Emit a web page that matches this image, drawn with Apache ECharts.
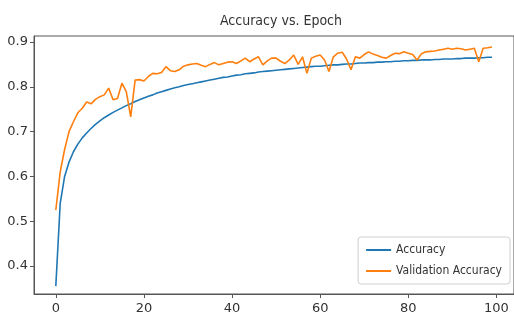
<!DOCTYPE html>
<html>
<head>
<meta charset="utf-8">
<script src="https://cdn.jsdelivr.net/npm/echarts@6/dist/echarts.min.js"></script>
<style>
html,body{margin:0;padding:0;background:#fff;}
#c{width:514px;height:322px;}
</style>
</head>
<body>
<div id="c"></div>
<script>
const epochs = [];
for (let i = 0; i < 100; i++) epochs.push(i);

const accuracy = [
0.355,0.540,0.600,0.632,0.655,0.672,0.686,0.697,0.707,0.716,
0.724,0.731,0.737,0.743,0.748,0.753,0.758,0.762,0.767,0.771,
0.775,0.779,0.782,0.786,0.789,0.792,0.795,0.798,0.800,0.803,
0.805,0.807,0.809,0.811,0.813,0.815,0.817,0.819,0.821,0.822,
0.824,0.826,0.827,0.829,0.830,0.831,0.833,0.834,0.835,0.836,
0.837,0.838,0.839,0.840,0.841,0.842,0.843,0.844,0.845,0.846,
0.846,0.847,0.848,0.849,0.849,0.850,0.851,0.851,0.852,0.853,
0.853,0.854,0.854,0.855,0.855,0.856,0.856,0.857,0.857,0.858,
0.858,0.859,0.859,0.860,0.860,0.860,0.861,0.861,0.862,0.862,
0.862,0.863,0.863,0.864,0.864,0.864,0.865,0.865,0.866,0.866
];

const valAccuracy = [
0.525,0.610,0.660,0.700,0.722,0.742,0.752,0.766,0.762,0.772,
0.778,0.782,0.797,0.771,0.774,0.808,0.789,0.733,0.815,0.816,
0.813,0.823,0.830,0.829,0.832,0.845,0.836,0.834,0.838,0.846,
0.849,0.851,0.852,0.848,0.845,0.850,0.854,0.849,0.852,0.855,
0.856,0.852,0.858,0.864,0.856,0.862,0.867,0.849,0.858,0.864,
0.864,0.857,0.852,0.860,0.871,0.850,0.867,0.830,0.864,0.868,
0.871,0.860,0.834,0.867,0.875,0.877,0.862,0.838,0.867,0.864,
0.872,0.878,0.873,0.870,0.866,0.864,0.870,0.875,0.874,0.878,
0.875,0.872,0.860,0.874,0.878,0.879,0.880,0.882,0.884,0.886,
0.884,0.886,0.885,0.882,0.884,0.886,0.856,0.886,0.887,0.889
];

const xTicks = [0, 20, 40, 60, 80, 100];
const yTicks = [0.4, 0.5, 0.6, 0.7, 0.8, 0.9];

const FONT = 'DejaVu Sans';
const NARROW = '"Liberation Sans Narrow", "DejaVu Sans Condensed", sans-serif';
const chart = echarts.init(document.getElementById('c'), null, {renderer: 'canvas'});
chart.setOption({
  animation: false,
  backgroundColor: '#fff',
  title: {
    text: 'Accuracy vs. Epoch',
    left: 276, textAlign: 'center', top: 9,
    textStyle: {fontFamily: NARROW, fontSize: 14, fontWeight: 'normal', color: '#333'}
  },
  legend: {
    orient: 'vertical', right: 4, top: 237,
    padding: [7, 8], itemGap: 9,
    itemWidth: 25, itemHeight: 2, icon: 'rect',
    borderColor: '#d0d0d0', borderWidth: 1, borderRadius: 3,
    backgroundColor: '#fff',
    textStyle: {fontFamily: NARROW, fontSize: 12, color: '#333'},
    data: ['Accuracy', 'Validation Accuracy']
  },
  grid: {
    left: 34, right: -2, top: 36, bottom: 28,
    show: true, borderColor: '#555', borderWidth: 1, backgroundColor: 'transparent'
  },
  xAxis: {
    type: 'value', min: -4.95, max: 104,
    axisLine: {show: true, onZero: false, lineStyle: {color: '#555'}},
    axisTick: {show: true, length: 4, inside: false, customValues: xTicks, lineStyle: {color: '#555'}},
    axisLabel: {customValues: xTicks, margin: 8, fontFamily: FONT, fontSize: 13, color: '#333'},
    splitLine: {show: false}
  },
  yAxis: {
    type: 'value', min: 0.3375, max: 0.9134,
    axisLine: {show: true, onZero: false, lineStyle: {color: '#555'}},
    axisTick: {show: true, length: 4, inside: false, customValues: yTicks, lineStyle: {color: '#555'}},
    axisLabel: {customValues: yTicks, margin: 6, fontFamily: FONT, fontSize: 13, color: '#333',
      formatter: v => v.toFixed(1)},
    splitLine: {show: false}
  },
  series: [
    {
      name: 'Accuracy', type: 'line', showSymbol: false,
      data: epochs.map((e, i) => [e, accuracy[i]]),
      lineStyle: {color: '#1f77b4', width: 1.6}, itemStyle: {color: '#1f77b4'}
    },
    {
      name: 'Validation Accuracy', type: 'line', showSymbol: false,
      data: epochs.map((e, i) => [e, valAccuracy[i]]),
      lineStyle: {color: '#ff7f0e', width: 1.6}, itemStyle: {color: '#ff7f0e'}
    }
  ]
});
</script>
</body>
</html>
